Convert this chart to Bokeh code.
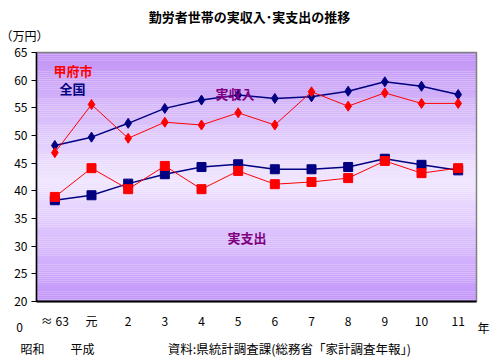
import numpy as np
from bokeh.plotting import figure
from bokeh.models import Label, Range1d, FixedTicker, LinearAxis
from bokeh.embed import file_html
from bokeh.resources import INLINE

years = ["≈ 63", "元", "2", "3", "4", "5", "6", "7", "8", "9", "10", "11"]
kofu_income = [46.9, 55.6, 49.5, 52.4, 51.9, 54.1, 51.9, 57.9, 55.3, 57.7, 55.8, 55.8]
japan_income = [48.2, 49.7, 52.2, 54.9, 56.4, 57.3, 56.7, 57.0, 58.0, 59.7, 58.9, 57.4]
kofu_spend = [38.9, 44.1, 40.3, 44.5, 40.3, 43.6, 41.2, 41.6, 42.3, 45.4, 43.2, 44.1]
japan_spend = [38.3, 39.2, 41.3, 43.0, 44.3, 44.8, 43.9, 43.9, 44.3, 45.8, 44.7, 43.7]
y_ticks = [20, 25, 30, 35, 40, 45, 50, 55, 60, 65]
Y_MIN, Y_MAX = 20, 65

FONT = "Noto Sans CJK JP"
RED = "#FF0000"
NAVY = "#000080"
PURPLE = "#800080"
W, H = 498, 360

# layout of the plotting area inside the canvas (pixels)
PL, PR, PT, PB = 36, 476, 52, 301
NX = len(years)
sx = (PR - PL) / NX
sy = (PB - PT) / (Y_MAX - Y_MIN)


def fx(px):
    return (px - PL) / sx


def fy(py):
    return Y_MIN + (PB - py) / sy


xs = [i + 0.5 for i in range(NX)]

p = figure(width=W, height=H, output_backend="svg", toolbar_location=None,
           x_axis_type=None, y_axis_type=None,
           x_range=Range1d(fx(0), fx(W)), y_range=Range1d(fy(H), fy(0)),
           min_border=0)
p.background_fill_color = "white"
p.border_fill_color = "white"
p.outline_line_color = None
p.grid.visible = False

# gradient background of the plotting area
n = 120
edges = np.linspace(Y_MIN, Y_MAX, n + 1)
top_c = np.array([192, 146, 246])
mid_c = np.array([240, 230, 255])
bot_c = np.array([194, 148, 250])
mid_v = 42.0
cols = []
for i in range(n):
    v = (edges[i] + edges[i + 1]) / 2
    if v >= mid_v:
        t = (v - mid_v) / (Y_MAX - mid_v)
        c = mid_c + (top_c - mid_c) * t
    else:
        t = (mid_v - v) / (mid_v - Y_MIN)
        c = mid_c + (bot_c - mid_c) * t
    cols.append("#%02x%02x%02x" % tuple(int(round(x)) for x in c))
p.quad(left=0, right=NX, bottom=edges[:-1], top=edges[1:],
       fill_color=cols, line_color=None)
p.quad(left=0, right=NX, bottom=Y_MIN, top=Y_MAX, fill_color=None,
       line_color="#808080", line_width=1.5)

# series
p.line(xs, japan_income, color=NAVY, line_width=1.5)
p.scatter(xs, japan_income, marker="diamond", size=10, color=NAVY)
p.line(xs, kofu_income, color=RED, line_width=1)
p.scatter(xs, kofu_income, marker="diamond", size=10, color=RED)
p.line(xs, japan_spend, color=NAVY, line_width=1.5)
p.scatter(xs, japan_spend, marker="square", size=9, color=NAVY)
p.line(xs, kofu_spend, color=RED, line_width=1)
p.scatter(xs, kofu_spend, marker="square", size=9, color=RED)

# axes, fixed at the edges of the plotting area
yax = LinearAxis(fixed_location=0, bounds=(Y_MIN, Y_MAX), ticker=FixedTicker(ticks=y_ticks))
yax.axis_line_color = "black"
yax.axis_line_width = 1.5
yax.major_tick_out = 5
yax.major_tick_in = 0
yax.minor_tick_line_color = None
yax.major_label_text_font = FONT
yax.major_label_text_font_size = "12px"
yax.major_label_text_color = "black"
yax.major_label_standoff = 4
p.add_layout(yax, "left")

xax = LinearAxis(fixed_location=Y_MIN, bounds=(0, NX), ticker=FixedTicker(ticks=xs))
xax.major_label_overrides = {x: lab for x, lab in zip(xs, years)}
xax.axis_line_color = "black"
xax.axis_line_width = 2
xax.major_tick_line_color = None
xax.minor_tick_line_color = None
xax.major_label_text_font = FONT
xax.major_label_text_font_size = "12px"
xax.major_label_text_color = "black"
xax.major_label_standoff = 4
p.add_layout(xax, "below")


def lab(text, px, py, size="12px", color="black", bold=False, align="left"):
    p.add_layout(Label(x=fx(px), y=fy(py), text=text, text_font=FONT, text_font_size=size,
                       text_color=color, text_font_style="bold" if bold else "normal",
                       text_align=align, text_baseline="middle"))


lab("勤労者世帯の実収入･実支出の推移", 249, 16, size="13px", bold=True, align="center")
lab("（万円）", 0, 35, size="12px")
lab("甲府市", 53, 70, size="13px", color=RED, bold=True)
lab("全国", 59, 88, size="13px", color=NAVY, bold=True)
lab("実収入", 215, 93, size="13px", color=PURPLE, bold=True)
lab("実支出", 227, 237, size="13px", color=PURPLE, bold=True)
lab("0", 19, 327, align="center")
lab("年", 483, 327, align="center")
lab("昭和", 20, 348)
lab("平成", 70, 348)
lab("資料:県統計調査課(総務省「家計調査年報」)", 292, 348, size="12.5px", align="center")

open("out.html", "w").write(file_html(p, INLINE))
